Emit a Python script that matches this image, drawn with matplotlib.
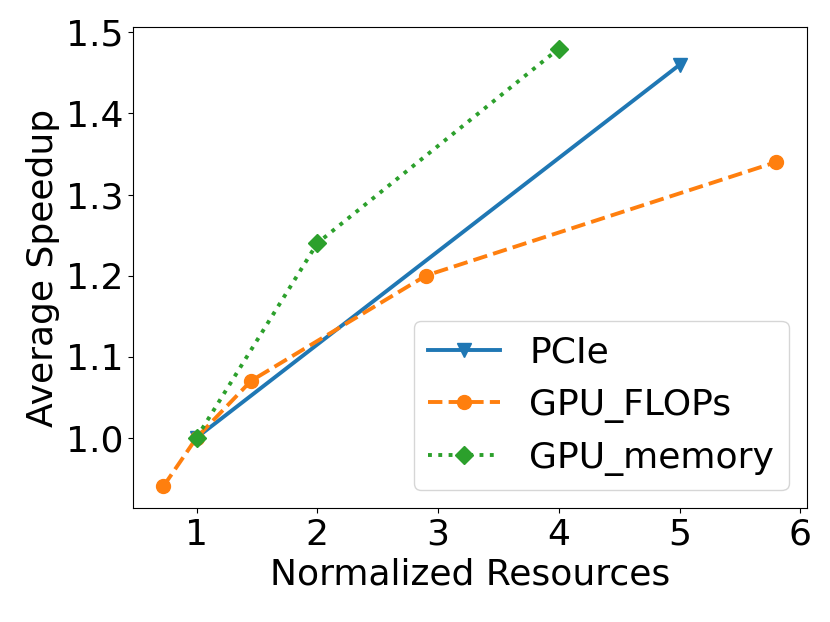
import matplotlib
matplotlib.use('Agg')
import matplotlib.pyplot as plt

# Data
pcie_x = [1, 5]
pcie_y = [1.0, 1.46]
flops_x = [0.725, 1, 1.45, 2.9, 5.8]
flops_y = [0.94, 1.0, 1.07, 1.2, 1.34]
mem_x = [1, 2, 4]
mem_y = [1.0, 1.24, 1.48]

plt.rcParams['font.size'] = 26

fig, ax = plt.subplots(figsize=(8.3, 6.22), dpi=100)
ax.plot(pcie_x, pcie_y, '-', marker='v', color='#1f77b4', lw=2.8, ms=10, label='PCIe')
ax.plot(flops_x, flops_y, '--', marker='o', color='#ff7f0e', lw=2.8, ms=10, label='GPU_FLOPs')
ax.plot(mem_x, mem_y, ':', marker='D', color='#2ca02c', lw=2.8, ms=9, label='GPU_memory')

ax.set_xlabel('Normalized Resources')
ax.set_ylabel('Average Speedup')
ax.set_xticks([1, 2, 3, 4, 5, 6])
ax.set_yticks([1.0, 1.1, 1.2, 1.3, 1.4, 1.5])
ax.tick_params(labelsize=26)
ax.legend(loc='lower right', fontsize=26)

plt.subplots_adjust(left=0.16, right=0.972, top=0.957, bottom=0.183)
plt.savefig('out.png')
